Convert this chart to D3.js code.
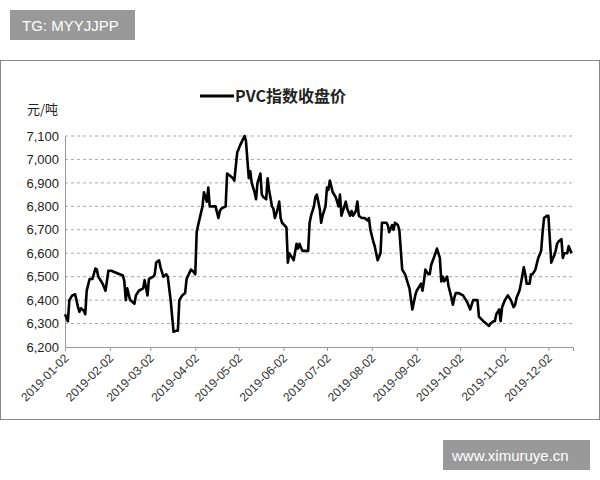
<!DOCTYPE html><html><head><meta charset="utf-8"><script src="https://cdn.jsdelivr.net/npm/d3@7"></script>
<style>body{margin:0;background:#fff}</style></head><body><svg width="600" height="480"></svg><script>
const days=[0,2,3,5,7,9,10,11,13,14,15,17,19,21,22,23,26,28,30,32,34,40,41,42,43,45,48,49,51,54,55,57,58,61,62,63,65,66,68,70,71,73,75,77,78,79,81,83,84,87,89,90,91,92,95,96,98,99,100,103,104,106,107,108,111,112,114,116,117,119,121,124,125,127,128,129,131,132,133,135,136,137,139,140,141,143,144,145,147,148,149,150,153,154,155,156,157,158,160,161,162,164,166,168,169,170,172,173,174,176,177,178,180,181,182,183,185,187,189,190,191,193,194,195,197,198,199,201,202,203,205,207,209,210,211,213,214,215,216,218,219,222,223,224,226,227,228,230,231,233,235,238,240,242,243,244,246,247,248,249,251,252,253,256,257,259,260,261,262,264,265,267,268,269,270,272,275,277,278,280,282,285,286,289,291,293,294,296,297,298,300,301,302,304,305,306,308,310,311,312,314,315,317,318,319,321,322,323,325,327,329,330,331,333,334,336,338,339,340,341,343,344,345,347,348,350];
const values=[6340,6310,6400,6420,6425,6370,6350,6365,6355,6340,6440,6490,6490,6535,6530,6500,6470,6440,6525,6525,6520,6505,6480,6400,6450,6400,6385,6420,6440,6450,6485,6420,6490,6500,6510,6560,6570,6540,6500,6510,6500,6400,6265,6270,6270,6400,6420,6430,6490,6530,6520,6510,6690,6720,6800,6860,6820,6880,6800,6800,6800,6750,6780,6790,6800,6940,6930,6920,6910,7030,7060,7100,7080,6920,6950,6900,6860,6830,6900,6940,6850,6840,6830,6920,6870,6800,6790,6750,6790,6820,6750,6730,6710,6560,6600,6590,6580,6570,6640,6620,6640,6610,6610,6610,6730,6760,6800,6840,6850,6790,6730,6760,6800,6880,6870,6910,6860,6840,6800,6850,6760,6800,6820,6790,6760,6780,6760,6780,6820,6760,6750,6750,6740,6750,6700,6650,6630,6600,6570,6600,6730,6730,6720,6690,6720,6700,6730,6720,6700,6530,6510,6450,6360,6420,6440,6450,6470,6440,6480,6530,6510,6510,6550,6600,6620,6580,6480,6500,6480,6500,6460,6410,6380,6410,6430,6430,6420,6400,6390,6360,6400,6400,6330,6310,6300,6290,6300,6310,6310,6340,6360,6310,6370,6400,6410,6420,6400,6370,6380,6410,6440,6470,6540,6510,6470,6470,6510,6510,6530,6580,6610,6690,6750,6760,6760,6560,6590,6610,6640,6650,6660,6580,6600,6600,6630,6600];
const xTicks=["2019-01-02","2019-02-02","2019-03-02","2019-04-02","2019-05-02","2019-06-02","2019-07-02","2019-08-02","2019-09-02","2019-10-02","2019-11-02","2019-12-02"];
const yTicks=[6200,6300,6400,6500,6600,6700,6800,6900,7000,7100];
const seriesName="PVC指数收盘价", unit="元/吨";
const svg=d3.select("svg");
const t0=new Date(2019,0,2);
const dt=d=>d3.timeDay.offset(t0,d);
const x=d3.scaleTime().domain([t0,dt(351)]).range([65,573]);
const y=d3.scaleLinear().domain([6200,7100]).range([347,136]);
svg.append("rect").attr("x",0.5).attr("y",60.5).attr("width",599).attr("height",359).attr("fill","#fff").attr("stroke","#888");
svg.append("g").selectAll("line").data(yTicks.slice(1)).join("line").attr("x1",65).attr("x2",573).attr("y1",d=>y(d)).attr("y2",d=>y(d)).attr("stroke","#aaa").attr("stroke-dasharray","3,3");
const ya=svg.append("g").attr("transform","translate(65,0)").call(d3.axisLeft(y).tickValues(yTicks).tickFormat(d3.format(",")).tickSize(0).tickPadding(6));
ya.select(".domain").attr("stroke","#999");
ya.selectAll("text").attr("font-family","Liberation Sans, Arial").attr("font-size",13).attr("fill","#222");
const xa=svg.append("g").attr("transform","translate(0,347)").call(d3.axisBottom(x).tickValues(xTicks.map(s=>d3.timeParse("%Y-%m-%d")(s))).tickFormat(d3.timeFormat("%Y-%m-%d")).tickSize(4));
xa.select(".domain").attr("stroke","#999");xa.selectAll("line").attr("stroke","#999");
xa.selectAll("text").attr("font-family","Liberation Sans, Arial").attr("font-size",12).attr("fill","#333").attr("text-anchor","end").attr("transform","translate(-4,4) rotate(-45)").attr("dy","0.35em");
svg.append("path").datum(days.map((d,i)=>[dt(d),values[i]])).attr("fill","none").attr("stroke","#000").attr("stroke-width",2.6).attr("stroke-linejoin","round").attr("d",d3.line().x(d=>x(d[0])).y(d=>y(d[1])));
svg.append("line").attr("x1",200).attr("x2",234).attr("y1",96).attr("y2",96).attr("stroke","#000").attr("stroke-width",3);
svg.append("text").attr("x",235).attr("y",102).text(seriesName).attr("font-family","Noto Sans CJK SC").attr("font-size",16).attr("font-weight","bold").attr("fill","#222");
svg.append("text").attr("x",27).attr("y",114).text(unit).attr("font-family","Noto Sans CJK SC").attr("font-size",13).attr("fill","#222");
svg.append("rect").attr("x",10).attr("y",10).attr("width",125).attr("height",30).attr("fill","#999");
svg.append("text").attr("x",22).attr("y",31).text("TG: MYYJJPP").attr("font-family","Liberation Sans, Arial").attr("font-size",15).attr("fill","#fff");
svg.append("rect").attr("x",443).attr("y",440).attr("width",147).attr("height",30).attr("fill","#999");
svg.append("text").attr("x",452).attr("y",461).text("www.ximuruye.cn").attr("font-family","Liberation Sans, Arial").attr("font-size",15).attr("fill","#fff");
</script></body></html>
